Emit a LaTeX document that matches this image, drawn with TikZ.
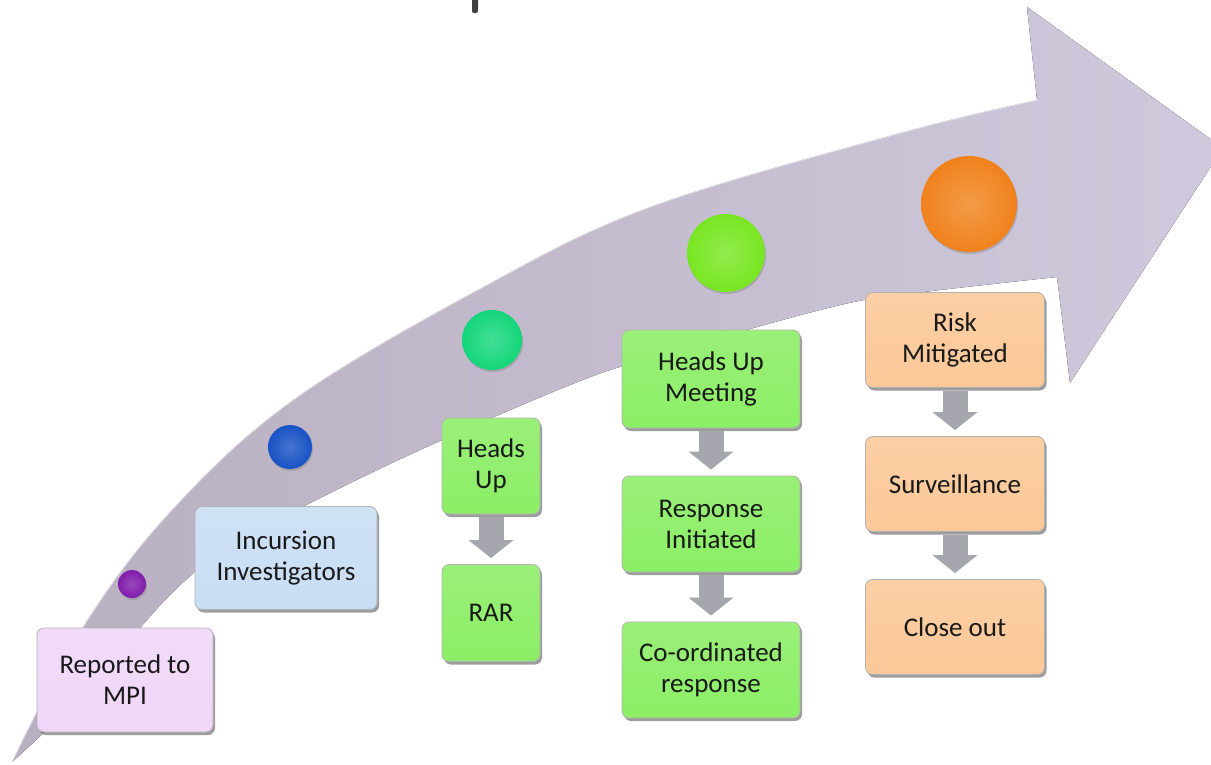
\documentclass[tikz,border=0pt]{standalone}
\usepackage{fontspec}
\setmainfont{Carlito}
\usetikzlibrary{arrows.meta,shadows}

\definecolor{bandlo}{RGB}{184,176,192}
\definecolor{bandhi}{RGB}{208,200,220}
\definecolor{pinkbox}{RGB}{240,214,248}
\definecolor{bluebox}{RGB}{200,221,244}
\definecolor{greenbox}{RGB}{140,238,102}
\definecolor{orangebox}{RGB}{251,200,152}
\definecolor{downgray}{RGB}{166,166,174}
\definecolor{ballpurple}{RGB}{128,28,172}
\definecolor{ballblue}{RGB}{24,82,196}
\definecolor{ballteal}{RGB}{20,214,122}
\definecolor{balllime}{RGB}{120,230,34}
\definecolor{ballorange}{RGB}{240,130,28}

\tikzset{
  stepbox/.style={draw=black!30, line width=0.8pt, rounded corners=7pt,
    align=center, inner sep=2pt, text=black!90,
    font=\fontsize{27}{31}\selectfont,
    top color=#1!88!white, bottom color=#1,
    drop shadow={shadow xshift=2pt, shadow yshift=-3pt, fill=black!70, opacity=.55}},
  glossy/.style={circle, inner sep=0pt, shading=radial,
    inner color=#1!80!white, outer color=#1,
    drop shadow={shadow xshift=1pt, shadow yshift=-2pt, fill=black!50, opacity=.4}},
  down/.style={draw=downgray, line width=25pt,
    -{Triangle[width=44pt,length=18pt]}, shorten <=3pt, shorten >=6pt}
}

\begin{document}
\begin{tikzpicture}[x=1pt,y=-1pt]
    \useasboundingbox (0,0) rectangle (1211,764);
    \clip (0,0) rectangle (1211,764);

    % Curved band with its head
    \fill[left color=bandlo, right color=bandhi]
      (12,762) -- plot[smooth, tension=0.6] coordinates {(12,762) (83,627) (170,512) (293,400) (483,287) (650,207) (900,133) (1037,100)}
      -- (1027,7) -- (1223,148) -- (1070,383) -- (1057,277)
      -- plot[smooth, tension=0.6] coordinates {(1057,277) (900,295) (820,310) (650,358) (570,385) (420,450) (300,508) (230,545) (175,590) (125,645) (65,712) (12,762)}
      -- cycle;
    \draw[white, opacity=.6, line width=1.2pt]
      plot[smooth, tension=0.6] coordinates {(12,762) (83,627) (170,512) (293,400) (483,287) (650,207) (900,133) (1037,100)};

    % Cut-off title
    \fill[black!75, rounded corners=2pt] (472,-4) rectangle (478,13);

    % Balls
    \node[glossy=ballpurple, minimum size=28pt] (b1) at (132,584) {};
    \node[glossy=ballblue, minimum size=44pt] (b2) at (290,447) {};
    \node[glossy=ballteal, minimum size=60pt] (b3) at (492,340) {};
    \node[glossy=balllime, minimum size=78pt] (b4) at (726,253) {};
    \node[glossy=ballorange, minimum size=96pt] (b5) at (969,204) {};

    % Stages
    \node[stepbox=pinkbox, minimum width=176pt, minimum height=104pt] (rep) at (125,680) {Reported to\\MPI};
    \node[stepbox=bluebox, minimum width=182pt, minimum height=103pt] (inv) at (286,558) {Incursion\\Investigators};

    \node[stepbox=greenbox, minimum width=98pt, minimum height=96pt] (hu) at (491,466) {Heads\\Up};
    \node[stepbox=greenbox, minimum width=98pt, minimum height=97pt] (rar) at (491,613) {RAR};

    \node[stepbox=greenbox, minimum width=178pt, minimum height=98pt] (hum) at (711,379) {Heads Up\\Meeting};
    \node[stepbox=greenbox, minimum width=178pt, minimum height=96pt] (resp) at (711,524) {Response\\Initiated};
    \node[stepbox=greenbox, minimum width=178pt, minimum height=96pt] (coord) at (711,670) {Co-ordinated\\response};

    \node[stepbox=orangebox, minimum width=179pt, minimum height=95pt] (risk) at (955,340) {Risk\\Mitigated};
    \node[stepbox=orangebox, minimum width=179pt, minimum height=95pt] (surv) at (955,484) {Surveillance};
    \node[stepbox=orangebox, minimum width=179pt, minimum height=95pt] (close) at (955,627) {Close out};

    % Down arrows
    \draw[down] (hu.south) -- (rar.north);
    \draw[down] (hum.south) -- (resp.north);
    \draw[down] (resp.south) -- (coord.north);
    \draw[down] (risk.south) -- (surv.north);
    \draw[down] (surv.south) -- (close.north);
\end{tikzpicture}
\end{document}
